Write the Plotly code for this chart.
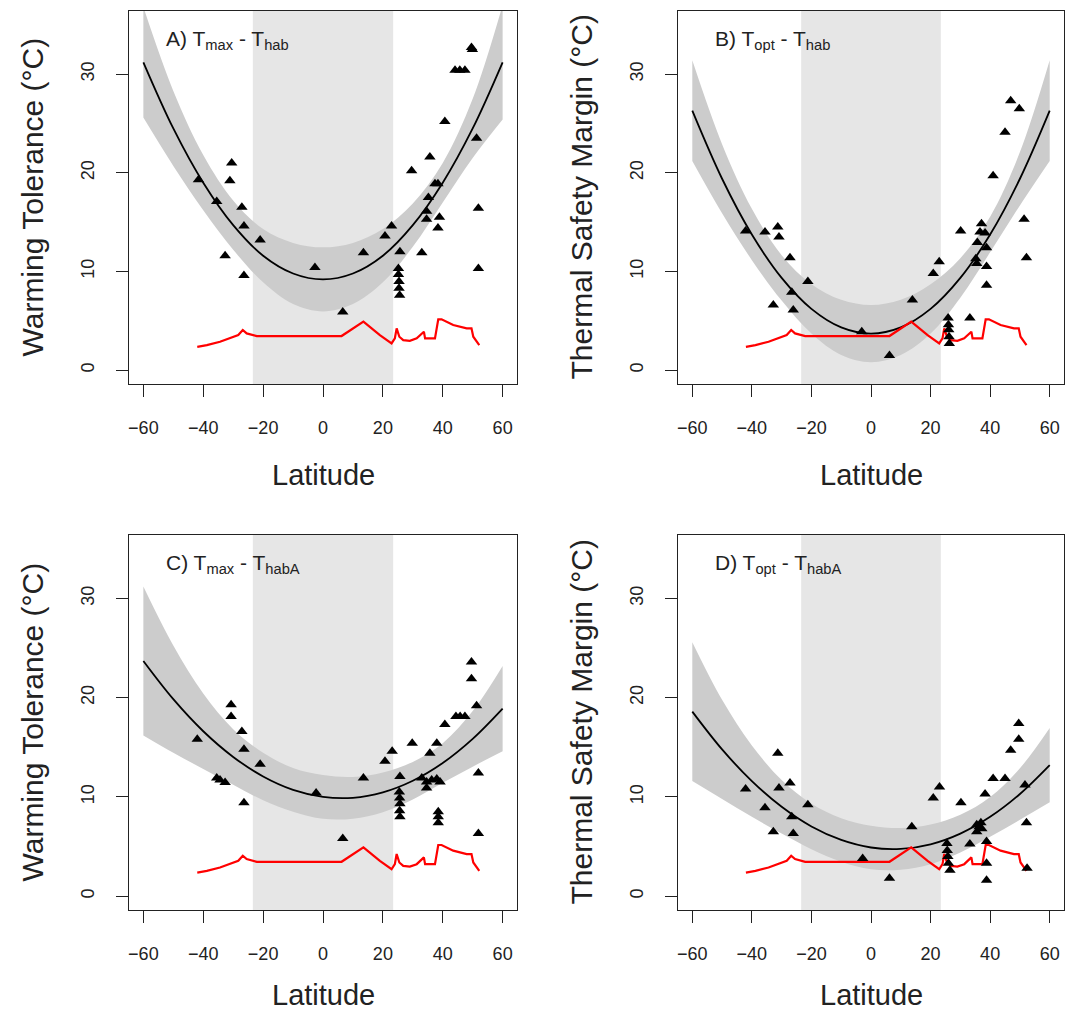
import plotly.graph_objects as go

# ---------------- data ----------------
fit_lat = [-60, -50, -40, -30, -20, -10, 0, 10, 20, 30, 40, 50, 60]

A_fit = [31.2, 24.5, 19.0, 14.7, 11.6, 9.8, 9.2, 9.8, 11.6, 14.7, 19.0, 24.5, 31.2]
A_upper = [36.8, 28.3, 21.8, 17.2, 14.3, 12.9, 12.45, 12.9, 14.3, 16.9, 21.0, 27.5, 37.0]
A_lower = [25.6, 20.7, 16.2, 12.2, 8.9, 6.7, 5.95, 6.7, 8.9, 12.5, 17.0, 21.5, 25.4]

B_fit = [26.3, 19.4, 13.75, 9.35, 6.21, 4.33, 3.7, 4.33, 6.21, 9.35, 13.75, 19.4, 26.3]
B_upper = [31.4, 22.9, 16.35, 11.65, 8.71, 7.13, 6.6, 7.13, 8.71, 11.35, 15.55, 22.1, 31.4]
B_lower = [21.2, 15.9, 11.15, 7.05, 3.71, 1.53, 0.8, 1.53, 3.71, 7.35, 11.95, 16.7, 21.2]

C_fit = [23.7, 19.85, 16.62, 14.03, 12.06, 10.71, 10.0, 9.91, 10.46, 11.63, 13.42, 15.85, 18.9]
C_upper = [31.2, 25.25, 20.42, 16.83, 14.46, 12.91, 12.2, 12.01, 12.46, 13.53, 15.42, 18.65, 23.2]
C_lower = [16.2, 14.45, 12.82, 11.23, 9.66, 8.51, 7.8, 7.81, 8.46, 9.73, 11.42, 13.05, 14.6]

D_fit = [18.6, 14.79, 11.59, 9.0, 7.02, 5.66, 4.9, 4.76, 5.22, 6.3, 7.99, 10.29, 13.2]
D_upper = [25.6, 19.79, 15.19, 11.7, 9.32, 7.86, 7.1, 6.86, 7.22, 8.2, 9.99, 12.89, 16.95]
D_lower = [11.6, 9.79, 7.99, 6.3, 4.72, 3.46, 2.7, 2.66, 3.22, 4.4, 5.99, 7.69, 9.45]

A_lat = [-41.6, -35.5, -30.5, -31.1, -27.1, -26.4, -21.0, -32.7, -26.4, -2.7, 6.6, 13.5, 20.7,
         22.9, 25.7, 25.2, 25.2, 25.4, 25.4, 25.6, 33.0, 29.6, 35.7, 40.7, 37.4, 38.4, 35.2,
         34.6, 34.6, 38.9, 38.4, 44.1, 45.7, 47.4, 49.6, 49.9, 51.3, 51.9, 51.9]
A_val = [19.3, 17.1, 21.0, 19.2, 16.5, 14.6, 13.2, 11.6, 9.6, 10.4, 5.9, 11.9, 13.6,
         14.6, 12.0, 10.3, 9.7, 9.0, 8.3, 7.6, 11.9, 20.2, 21.6, 25.2, 18.9, 18.9, 17.5,
         16.1, 15.3, 15.5, 14.4, 30.4, 30.4, 30.4, 32.7, 32.5, 23.5, 16.4, 10.3]

B_lat = [-42.1, -35.6, -31.3, -30.9, -27.2, -21.2, -26.6, -32.8, -26.1, -3.1,
         6.2, 13.9, 20.9, 22.9, 25.9, 26.0, 26.1, 26.2, 26.3, 30.1,
         33.2, 37.1, 36.6, 38.3, 35.7, 38.8, 35.2, 35.5, 38.8, 38.8,
         41.0, 45.0, 46.9, 49.8, 51.4, 52.2]
B_val = [14.1, 14.0, 14.5, 13.5, 11.4, 9.0, 7.9, 6.6, 6.1, 3.9,
         1.5, 7.1, 9.8, 11.0, 5.3, 4.6, 4.1, 3.4, 2.7, 14.1,
         5.3, 14.85, 14.0, 13.9, 12.95, 12.4, 11.3, 10.8, 10.5, 8.6,
         19.7, 24.1, 27.3, 26.5, 15.3, 11.4]

C_lat = [-42.0, -35.5, -34.4, -32.7, -30.7, -30.7, -27.1, -26.4, -21.0, -26.4, -2.3, 6.6,
         13.5, 20.7, 23.1, 25.7, 25.5, 25.6, 25.7, 25.6, 25.7, 29.8, 35.7, 38.0, 40.7,
         44.4, 45.8, 47.4, 49.6, 49.6, 51.3, 51.9, 51.9, 33.0, 34.6, 36.3, 38.0, 39.1,
         34.6, 38.5, 38.5, 38.5]
C_val = [15.8, 11.9, 11.7, 11.45, 19.3, 18.1, 16.6, 14.8, 13.3, 9.4, 10.4, 5.8,
         11.9, 13.6, 14.6, 12.05, 10.5, 9.9, 9.3, 8.6, 8.0, 15.4, 14.4, 15.4, 17.3,
         18.1, 18.1, 18.1, 23.6, 21.9, 19.2, 12.4, 6.3, 11.9, 11.5, 11.7, 11.8, 11.5,
         10.9, 8.5, 8.0, 7.4]

D_lat = [-42.1, -35.6, -31.3, -30.9, -27.2, -21.2, -26.6, -32.8, -26.1, -2.8, 6.2, 13.7,
         20.9, 23.0, 30.2, 25.5, 25.6, 25.8, 26.0, 26.5, 33.2, 38.3, 41.0, 45.0, 46.9,
         49.6, 49.6, 51.7, 52.2, 52.4, 38.8, 38.8, 38.8, 35.5, 36.9, 37.2, 35.5, 36.3]
D_val = [10.8, 8.9, 14.4, 10.9, 11.4, 9.2, 8.0, 6.5, 6.3, 3.8, 1.8, 7.0,
         9.9, 11.0, 9.4, 5.3, 4.6, 4.0, 3.3, 2.6, 5.25, 10.3, 11.85, 11.85, 14.7,
         15.8, 17.4, 11.2, 7.4, 2.8, 3.3, 1.6, 5.5, 7.2, 7.4, 6.8, 6.5, 7.0]

red_lat = [-42.0, -38.8, -34.4, -29.9, -28.3, -26.8, -25.5, -22.1, 6.2, 13.5, 19.0, 22.9,
           24.0, 24.6, 25.5, 26.8, 29.0, 31.3, 33.0, 33.7, 34.1, 37.4, 38.5, 39.6, 43.5,
           48.0, 49.6, 50.2, 52.2]
red_val = [2.37, 2.54, 2.88, 3.39, 3.56, 4.07, 3.73, 3.46, 3.46, 4.92, 3.56, 2.71,
           3.22, 4.24, 3.39, 3.05, 2.98, 3.22, 3.73, 3.9, 3.22, 3.22, 5.15, 5.15, 4.58,
           4.24, 4.24, 3.39, 2.54]

x_ticks = [-60, -40, -20, 0, 20, 40, 60]
y_ticks = [0, 10, 20, 30]
tropic_lat = 23.44

panel_labels = ["A) T<sub>max</sub> - T<sub>hab</sub>",
                "B) T<sub>opt</sub> - T<sub>hab</sub>",
                "C) T<sub>max</sub> - T<sub>habA</sub>",
                "D) T<sub>opt</sub> - T<sub>habA</sub>"]
y_titles = ["Warming Tolerance (°C)", "Thermal Safety Margin (°C)",
            "Warming Tolerance (°C)", "Thermal Safety Margin (°C)"]
x_title = "Latitude"

# ---------------- figure ----------------
W, H = 1078, 1013
FONT = "Liberation Sans, Arial, sans-serif"
TXT = "#222222"

# panel boxes in page pixels: (left, right, top, bottom)
boxes = [(129, 517, 11, 384), (678, 1064, 11, 384),
         (129, 517, 535, 910), (678, 1064, 535, 910)]
# vertical centre of the "Latitude" title for each panel (page pixels)
x_title_y = [475, 475, 995, 995]

panels = [
    (A_fit, A_upper, A_lower, A_lat, A_val),
    (B_fit, B_upper, B_lower, B_lat, B_val),
    (C_fit, C_upper, C_lower, C_lat, C_val),
    (D_fit, D_upper, D_lower, D_lat, D_val),
]


def fx(px):
    return px / W


def fy(py):
    return 1 - py / H


fig = go.Figure()
layout = dict(width=W, height=H, margin=dict(l=0, r=0, t=0, b=0),
              plot_bgcolor="white", paper_bgcolor="white", showlegend=False,
              font=dict(family=FONT, color=TXT))
shapes = []
annotations = []

for i, (fit, up, lo, plat, pval) in enumerate(panels):
    s = "" if i == 0 else str(i + 1)
    xa, ya = "x" + s, "y" + s
    l, r, t, b = boxes[i]
    layout["xaxis" + s] = dict(
        domain=[fx(l), fx(r)], anchor=ya, range=[-64.8, 64.8],
        tickmode="array", tickvals=x_ticks, ticks="outside", ticklen=12,
        tickwidth=1, tickcolor=TXT, showline=True, mirror=True, linecolor=TXT,
        linewidth=1.2, showgrid=False, zeroline=False,
        tickfont=dict(size=18, family=FONT, color=TXT), ticklabelstandoff=15)
    layout["yaxis" + s] = dict(
        domain=[fy(b), fy(t)], anchor=xa, range=[-1.4, 36.4],
        tickmode="array", tickvals=y_ticks, ticks="outside", ticklen=12,
        tickwidth=1, tickcolor=TXT, showline=True, mirror=True, linecolor=TXT,
        linewidth=1.2, showgrid=False, zeroline=False, tickangle=-90,
        tickfont=dict(size=18, family=FONT, color=TXT), ticklabelstandoff=15)

    shapes.append(dict(type="rect", xref=xa, yref=ya + " domain",
                       x0=-tropic_lat, x1=tropic_lat, y0=0, y1=1,
                       fillcolor="#e6e6e6", line=dict(width=0), layer="below"))

    fig.add_trace(go.Scatter(x=fit_lat, y=lo, mode="lines", line=dict(width=0, shape="spline"),
                             xaxis=xa, yaxis=ya, hoverinfo="skip"))
    fig.add_trace(go.Scatter(x=fit_lat, y=up, mode="lines", line=dict(width=0, shape="spline"),
                             fill="tonexty", fillcolor="#cccccc",
                             xaxis=xa, yaxis=ya, hoverinfo="skip"))
    fig.add_trace(go.Scatter(x=fit_lat, y=fit, mode="lines",
                             line=dict(color="black", width=1.8, shape="spline"),
                             xaxis=xa, yaxis=ya))
    fig.add_trace(go.Scatter(x=red_lat, y=red_val, mode="lines",
                             line=dict(color="#ff0000", width=2.2),
                             xaxis=xa, yaxis=ya))
    fig.add_trace(go.Scatter(x=plat, y=pval, mode="markers",
                             marker=dict(symbol="triangle-up", size=10, color="black",
                                         line=dict(width=0)),
                             xaxis=xa, yaxis=ya))

    annotations.append(dict(xref=xa, yref=ya, x=-53, y=33.5, text=panel_labels[i],
                            showarrow=False, xanchor="left", yanchor="middle",
                            font=dict(size=21, family=FONT, color=TXT)))
    annotations.append(dict(xref="paper", yref="paper", x=fx(l - 97),
                            y=fy((t + b) / 2), text=y_titles[i], textangle=-90,
                            showarrow=False, xanchor="center", yanchor="middle",
                            font=dict(size=30, family=FONT, color=TXT)))
    annotations.append(dict(xref="paper", yref="paper", x=fx((l + r) / 2),
                            y=fy(x_title_y[i]), text=x_title,
                            showarrow=False, xanchor="center", yanchor="middle",
                            font=dict(size=29, family=FONT, color=TXT)))

layout["shapes"] = shapes
layout["annotations"] = annotations
fig.update_layout(**layout)
# remove the default 8px page margin so the 1078x1013 figure fills the window exactly
fig.write_html("out.html", config={"displayModeBar": False},
               post_script="document.body.style.margin='0px';document.body.style.overflow='hidden';")
